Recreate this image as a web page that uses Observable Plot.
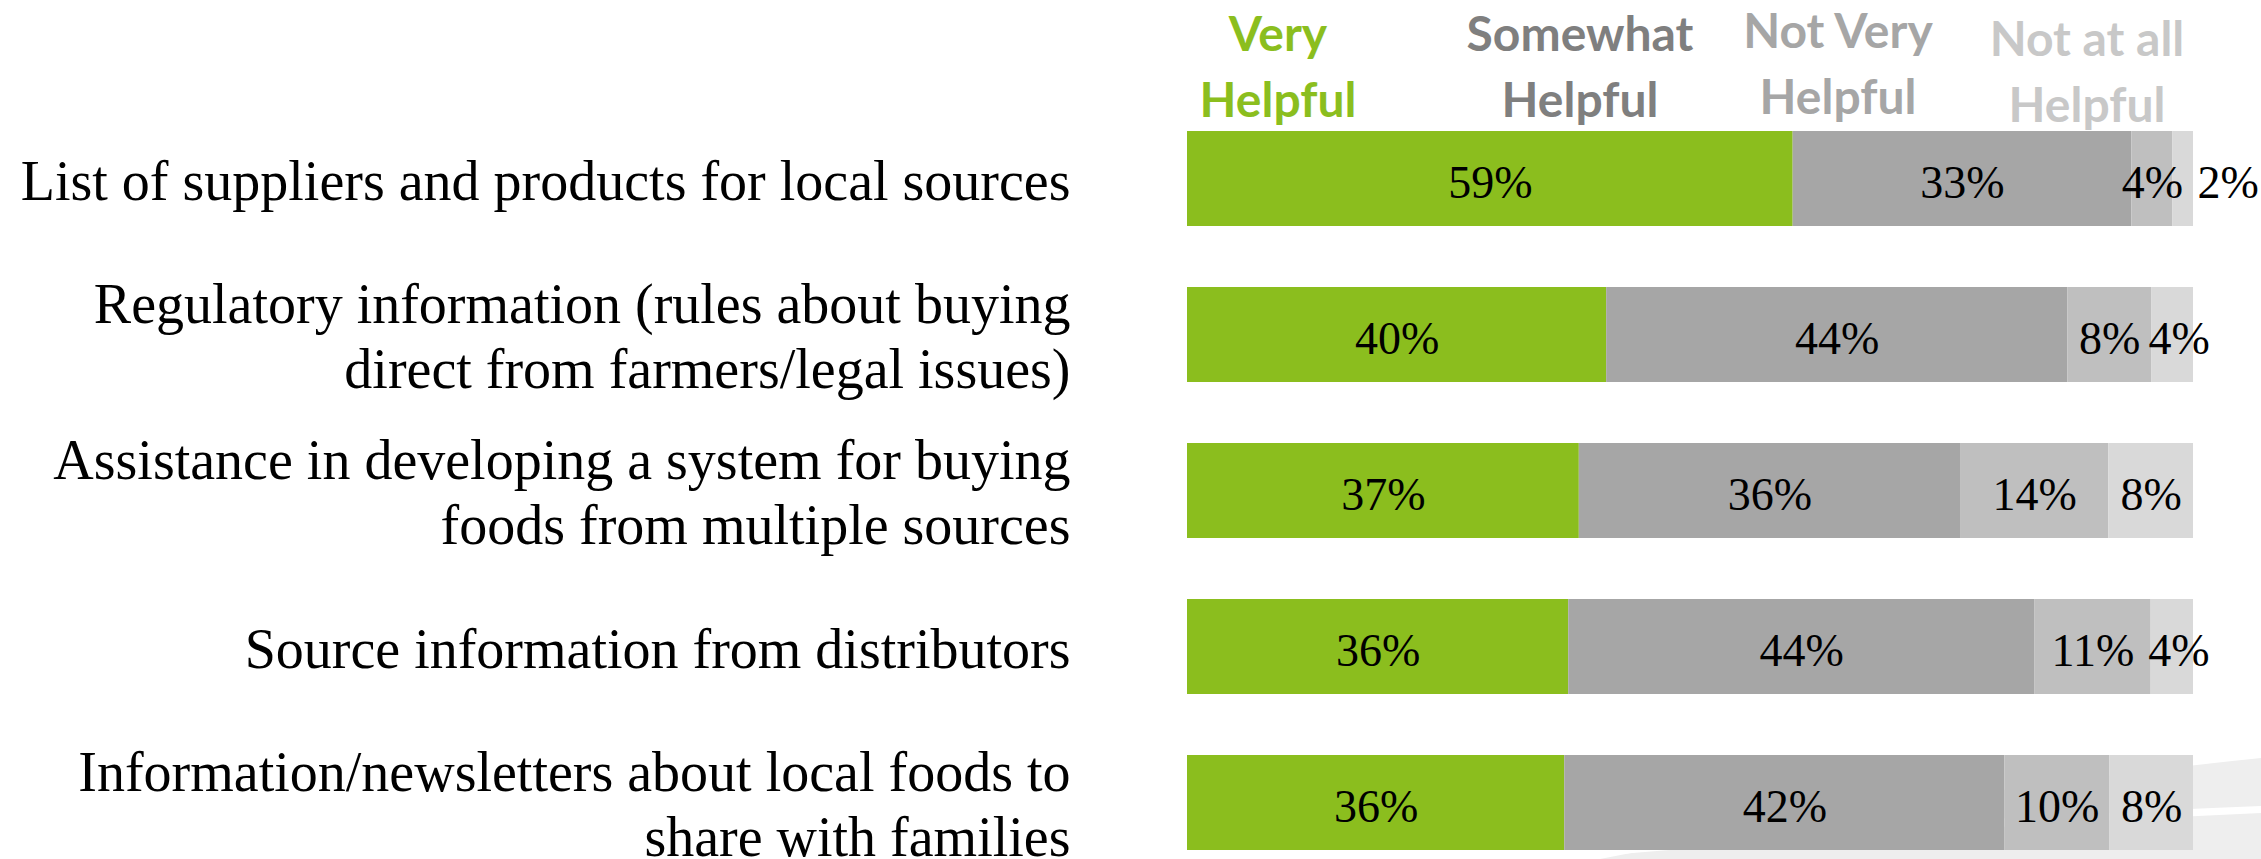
<!DOCTYPE html>
<html><head><meta charset="utf-8">
<script src="https://cdn.jsdelivr.net/npm/d3@7"></script>
<script src="https://cdn.jsdelivr.net/npm/@observablehq/plot@0.6"></script>
<style>
body{margin:0;background:#fff;width:2261px;height:859px;overflow:hidden;position:relative}
#bg{position:absolute;left:0;top:0;z-index:0}
#legend{position:relative;height:130px;width:2261px;z-index:1}
#chart{position:relative;z-index:1}
.lg{position:absolute;transform:translateX(-50%);text-align:center;font-family:Lato,sans-serif;font-weight:bold;font-size:48px;line-height:66px;white-space:nowrap}
.lg0{left:1278px;top:0px}
.lg1{left:1580px;top:0px}
.lg2{left:1838px;top:-3px}
.lg3{left:2087px;top:5px}
</style></head><body>
<svg id="bg" width="2261" height="859">
  <path d="M1600,859 Q1950,790 2261,758 L2261,859 Z" fill="#eeeeee"/>
  <path d="M1450,859 Q1900,820 2261,806 L2261,813 Q1920,828 1560,859 Z" fill="#ffffff"/>
</svg>
<div id="legend"></div>
<div id="chart"></div>
<script>
const categories = [
  "List of suppliers and products for local sources",
  "Regulatory information (rules about buying\ndirect from farmers/legal issues)",
  "Assistance in developing a system for buying\nfoods from multiple sources",
  "Source information from distributors",
  "Information/newsletters about local foods to\nshare with families"
];
const levels = ["Very Helpful", "Somewhat Helpful", "Not Very Helpful", "Not at all Helpful"];
const legendLines = [["Very", "Helpful"], ["Somewhat", "Helpful"], ["Not Very", "Helpful"], ["Not at all", "Helpful"]];
const veryHelpful = [59, 40, 37, 36, 36];
const somewhatHelpful = [33, 44, 36, 44, 42];
const notVeryHelpful = [4, 8, 14, 11, 10];
const notAtAllHelpful = [2, 4, 8, 4, 8];
const barColors = ["#8BBE1E", "#A6A6A6", "#BFBFBF", "#D9D9D9"];
const legendColors = ["#8BBE1E", "#7F7F7F", "#A6A6A6", "#C8C8C8"];

const series = [veryHelpful, somewhatHelpful, notVeryHelpful, notAtAllHelpful];
const data = categories.flatMap((c, i) => levels.map((l, j) => ({category: c, level: l, value: series[j][i]})));

const legend = document.getElementById("legend");
levels.forEach((l, j) => {
  const d = document.createElement("div");
  d.className = "lg lg" + j;
  d.style.color = legendColors[j];
  d.innerHTML = legendLines[j].join("<br>");
  legend.appendChild(d);
});

const lastLevel = levels[levels.length - 1];
const isNarrowLast = d => d.level === lastLevel && d.value <= 4;
const pct = d => d.value + "%";
const stackOpts = {x: "value", y: "category", z: "level", offset: "normalize"};
const textStyle = {fontSize: 46, fill: "#000", dy: 4};
const chart = Plot.plot({
  width: 2261,
  height: 729,
  marginLeft: 1187,
  marginRight: 68,
  marginTop: 0,
  marginBottom: 9,
  style: {fontFamily: "'Liberation Serif', serif", color: "#000", background: "transparent"},
  x: {axis: null, domain: [0, 1]},
  y: {domain: categories, paddingInner: 0.392, paddingOuter: 0, axis: null},
  color: {domain: levels, range: barColors},
  marks: [
    Plot.barX(data, Plot.stackX({...stackOpts, fill: "level"})),
    Plot.text(data, Plot.stackX({...stackOpts, ...textStyle, text: d => isNarrowLast(d) ? null : pct(d)})),
    Plot.text(data, Plot.stackX1({...stackOpts, ...textStyle, text: d => isNarrowLast(d) && d.value >= 3 ? pct(d) : null, textAnchor: "start", dx: -3})),
    Plot.text(data, Plot.stackX2({...stackOpts, ...textStyle, text: d => isNarrowLast(d) && d.value < 3 ? pct(d) : null, textAnchor: "start", dx: 4})),
    Plot.axisY({tickSize: 0, tickPadding: 117, fontSize: 56, lineHeight: 1.16, textAnchor: "end", fill: "#000", label: null})
  ]
});
document.getElementById("chart").appendChild(chart);
</script>
</body></html>
